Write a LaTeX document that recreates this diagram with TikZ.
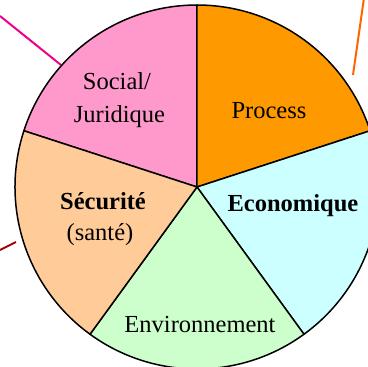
\documentclass[tikz,border=0pt]{standalone}
\usepackage{fontspec}
\setmainfont{Liberation Serif}
\definecolor{rose}{HTML}{FF99CC}
\definecolor{orangeprocess}{HTML}{FF9900}
\definecolor{cyanclair}{HTML}{CCFFFF}
\definecolor{vertclair}{HTML}{CCFFCC}
\definecolor{peche}{HTML}{FFCC99}
\definecolor{rougefonce}{HTML}{A00000}
\definecolor{orangelien}{HTML}{FF6600}
\begin{document}
\begin{tikzpicture}[x=1pt, y=1pt,
    secteur/.style={draw=black, line width=1.5pt, line join=round},
    lien/.style={line width=2pt},
    etiquette/.style={anchor=base, inner sep=0pt, font=\fontsize{24.5}{33}\selectfont}]
    % Cadre de l'image
    \useasboundingbox (0, 0) rectangle (368, -367);
    \clip (0, 0) rectangle (368, -367);

    % Liaisons vers l'extérieur
    \draw[lien, magenta] (0, -16) -- (61, -65);
    \draw[lien, orangelien] (364, 2) -- (353, -75);
    \draw[lien, rougefonce] (0, -250) -- (16, -242);

    % Camembert - cinq secteurs égaux
    \coordinate (O) at (197, -187);
    \def\rayon{182}
    \foreach \debut/\fin/\couleur in {90/162/rose, 18/90/orangeprocess, -54/18/cyanclair, -126/-54/vertclair, 162/234/peche}
        \filldraw[secteur, fill=\couleur] (O) -- ++(\debut:\rayon)
            arc[start angle=\debut, end angle=\fin, radius=\rayon] -- cycle;

    % Étiquettes
    \node[etiquette] (social) at (117, -89) {Social/};
    \node[etiquette] (juridique) at (119.5, -122) {Juridique};
    \node[etiquette] (process) at (269, -118) {Process};
    \node[etiquette, font=\fontsize{24.5}{33}\selectfont\bfseries] (eco) at (293, -211) {Economique};
    \node[etiquette, font=\fontsize{24.5}{33}\selectfont\bfseries] (securite) at (103, -209) {Sécurité};
    \node[etiquette] (sante) at (100, -240) {(santé)};
    \node[etiquette] (environnement) at (200, -332) {Environnement};
\end{tikzpicture}
\end{document}
